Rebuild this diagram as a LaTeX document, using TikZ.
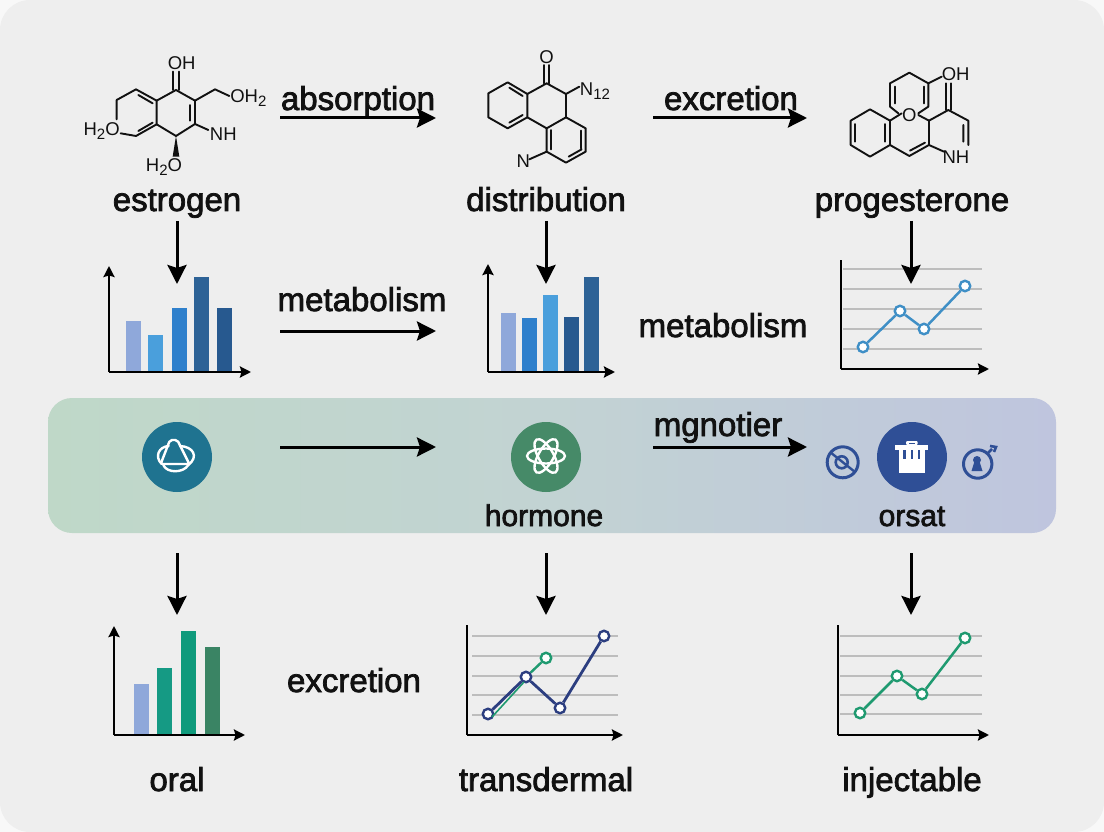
\documentclass[tikz,border=0pt]{standalone}
\usepackage{fontspec}
\setmainfont{Liberation Sans}[FakeBold=2.3]
\newfontfamily\molfont{Liberation Sans}
\newcommand{\subn}[1]{\raisebox{-4pt}{\fontsize{15}{15}\selectfont #1}}
\usetikzlibrary{arrows.meta,positioning,calc}
\definecolor{cardbg}{HTML}{EEEEEE}
\definecolor{outerbg}{HTML}{F8F8F8}
\definecolor{ink}{HTML}{111111}
\definecolor{gridc}{HTML}{BDBDBD}
\definecolor{bandL}{HTML}{BFD8C8}
\definecolor{bandM}{HTML}{C2D3D3}
\definecolor{bandR}{HTML}{BFC5DE}
\definecolor{barA}{HTML}{8FA8DA}
\definecolor{barB}{HTML}{4A9FDC}
\definecolor{barC}{HTML}{2F80CC}
\definecolor{barD}{HTML}{2D6296}
\definecolor{barE}{HTML}{27598F}
\definecolor{grA}{HTML}{159A84}
\definecolor{grB}{HTML}{0F9A7C}
\definecolor{grC}{HTML}{3A8464}
\definecolor{lineB}{HTML}{3F8FC6}
\definecolor{lineN}{HTML}{2C3E80}
\definecolor{lineG}{HTML}{1F9A70}
\definecolor{navy}{HTML}{2F4F96}
\definecolor{teal}{HTML}{1F7390}
\definecolor{leaf}{HTML}{468A68}
\tikzset{
  x=1pt,y=-1pt,
  lab/.style={font=\fontsize{33}{35}\selectfont,text=ink,inner sep=0pt,anchor=base},
  labsm/.style={lab,font=\fontsize{30}{32}\selectfont},
  flow/.style={draw=black,line width=3pt,-{Stealth[length=19pt,width=19pt,inset=3pt]}},
  axisline/.style={draw=black,line width=2.4pt,-{Stealth[length=11pt,width=11pt,inset=1.5pt]}},
  axisplain/.style={draw=black,line width=2.4pt},
  bond/.style={draw=ink,line width=1.9pt,line cap=round,line join=round},
  atom/.style={font=\molfont\fontsize{18.5}{20}\selectfont,text=ink,inner sep=0pt,anchor=center},
  gridl/.style={draw=gridc,line width=1.8pt},
  dot/.style={circle,draw=#1,fill=white,line width=2.4pt,minimum size=10.5pt,inner sep=0pt},
  badge/.style={circle,fill=#1,minimum size=70pt,inner sep=0pt},
  glyph/.style={draw=white,line width=2.4pt,line join=round,line cap=round},
}
\newcommand{\barbox}[4]{\fill[#4] (#1,#2) rectangle (#1+15,#3);}
\begin{document}
\begin{tikzpicture}
\useasboundingbox (0,0) rectangle (1104,832);
\fill[outerbg] (0,0) rectangle (1104,832);
\fill[cardbg,rounded corners=30pt] (0,0) rectangle (1104,832);
% band
\shade[rounded corners=24pt,left color=bandL,right color=bandR,middle color=bandM] (48,398) rectangle (1056,533);

% molecule 1
\begin{scope}[shift={(90,30)},x=.3333pt,y=-.3333pt]
\draw[bond] (258,180)--(315,212)--(315,282)--(258,318)--(200,283)--(200,212)--cycle;
\draw[bond] (200,212)--(138,178)--(80,210)--(80,268);
\draw[bond] (92,310)--(138,318)--(200,283);
\draw[bond] (145,195)--(188,220) (145,303)--(188,278) (300,225)--(300,272);
\draw[bond] (250,180)--(250,125) (266,180)--(266,125);
\draw[bond] (315,212)--(375,178)--(418,198) (315,282)--(355,300);
\fill[ink] (258,318)--(248,380)--(268,380)--cycle;
\node[atom] (m1a) at (275,98) {OH};
\node[atom] (m1b) at (475,205) {OH\subn{2}};
\node[atom] (m1c) at (400,312) {NH};
\node[atom] (m1d) at (222,412) {H\subn{2}O};
\node[atom] (m1e) at (35,303) {H\subn{2}O};
\end{scope}
% molecule 2
\begin{scope}[shift={(470,30)},x=.3333pt,y=-.3333pt]
\draw[bond] (113,157)--(172,192)--(172,262)--(113,295)--(55,262)--(55,190)--cycle;
\draw[bond] (118,173)--(158,198) (118,278)--(158,255);
\draw[bond] (172,192)--(230,160)--(288,192)--(288,262)--(230,295)--(172,262);
\draw[bond] (222,160)--(222,105) (238,160)--(238,105);
\draw[bond] (230,295)--(230,365)--(288,398)--(347,365)--(347,295)--(288,262);
\draw[bond] (243,300)--(243,358) (296,380)--(335,358) (333,302)--(333,355);
\draw[bond] (288,192)--(328,170) (230,365)--(178,388);
\node[atom] (m2a) at (230,80) {O};
\node[atom] (m2b) at (375,182) {N\subn{12}};
\node[atom] (m2c) at (160,392) {N};
\end{scope}
% molecule 3
\begin{scope}[shift={(830,50)},x=.3333pt,y=-.3333pt]
\draw[bond] (205,190)--(180,170)--(180,100)--(238,68)--(295,100)--(295,170)--(265,190);
\draw[bond] (195,110)--(195,160) (281,110)--(281,160);
\draw[bond] (295,100)--(335,80);
\draw[bond] (120,178)--(180,212)--(180,285)--(120,320)--(62,285)--(62,212)--cycle;
\draw[bond] (76,222)--(76,275) (166,222)--(166,275);
\draw[bond] (180,212)--(215,190) (180,285)--(238,318)--(297,285)--(297,212)--(355,180)--(415,212)--(415,285);
\draw[bond] (240,302)--(285,278) (400,225)--(400,275);
\draw[bond] (297,285)--(342,305) (297,212)--(265,195);
\draw[bond] (347,180)--(347,100) (363,180)--(363,100);
\node[atom] (m3a) at (377,72) {OH};
\node[atom] (m3b) at (238,195) {O};
\node[atom] (m3c) at (378,320) {NH};
\end{scope}

% labels
\node[lab] (estrogen) at (177,211) {estrogen};
\node[lab] (distribution) at (546,211) {distribution};
\node[lab] (progesterone) at (912,211) {progesterone};
\node[lab] (absorption) at (358,110) {absorption};
\node[lab] (excretionA) at (731,110) {excretion};
\node[lab] (metabA) at (362,311) {metabolism};
\node[lab] (metabB) at (723,337) {metabolism};
\node[lab] (mgnotier) at (718,436) {mgnotier};
\node[labsm] (hormone) at (544,526) {hormone};
\node[labsm] (orsat) at (912,526) {orsat};
\node[lab] (oral) at (177,791) {oral};
\node[lab] (transdermal) at (546,791) {transdermal};
\node[lab] (injectable) at (912,791) {injectable};
\node[lab] (excretionB) at (354,692) {excretion};

% chart 1
\barbox{125.5}{321}{372}{barA}
\barbox{148}{335}{372}{barB}
\barbox{171.5}{308}{372}{barC}
\barbox{194}{277}{372}{barD}
\barbox{217}{308}{372}{barE}
\coordinate (c1o) at (109,372); \coordinate (c1y) at (109,266); \coordinate (c1x) at (251,372);
\draw[axisline] (c1o)--(c1y); \draw[axisline] (c1o)--(c1x);
% chart 2
\barbox{501}{313}{372}{barA}
\barbox{522}{318}{372}{barC}
\barbox{543}{295}{372}{barB}
\barbox{564}{317}{372}{barE}
\barbox{584}{277}{372}{barD}
\coordinate (c2o) at (488,372); \coordinate (c2y) at (488,264); \coordinate (c2x) at (615,372);
\draw[axisline] (c2o)--(c2y); \draw[axisline] (c2o)--(c2x);
% chart 3
\foreach \y in {269,289,309,329,349}{\draw[gridl] (843,\y)--(982,\y);}
\coordinate (c3o) at (841,369); \coordinate (c3y) at (841,260); \coordinate (c3x) at (989,369);
\draw[axisplain] (c3o)--(c3y); \draw[axisline] (c3o)--(c3x);
\node[dot=lineB] (p31) at (863,347) {};
\node[dot=lineB] (p32) at (900,311) {};
\node[dot=lineB] (p33) at (924,329) {};
\node[dot=lineB] (p34) at (965,286) {};
\draw[lineB,line width=2.5pt] (p31)--(p32)--(p33)--(p34);
% chart 4
\barbox{134}{684}{735}{barA}
\barbox{157}{668}{735}{grA}
\barbox{181}{631}{735}{grB}
\barbox{205}{647}{735}{grC}
\coordinate (c4o) at (114,735); \coordinate (c4y) at (114,626); \coordinate (c4x) at (245,735);
\draw[axisline] (c4o)--(c4y); \draw[axisline] (c4o)--(c4x);
% chart 5
\foreach \y in {636,656,676,695,715}{\draw[gridl] (472,\y)--(618,\y);}
\coordinate (c5o) at (467,735); \coordinate (c5y) at (467,625); \coordinate (c5x) at (623,735);
\draw[axisplain] (c5o)--(c5y); \draw[axisline] (c5o)--(c5x);
\node[dot=lineG] (p5g) at (546,658) {};
\node[dot=lineN] (p51) at (488,714) {};
\node[dot=lineN] (p52) at (526,677) {};
\node[dot=lineN] (p53) at (560,708) {};
\node[dot=lineN] (p54) at (604,636) {};
\draw[lineG,line width=1.6pt] (492,717)--(524,682);
\draw[lineG,line width=2.4pt] (p52)--(p5g);
\draw[lineN,line width=2.8pt] (p51)--(p52)--(p53)--(p54);
% chart 6
\foreach \y in {636,656,676,695,714}{\draw[gridl] (840,\y)--(982,\y);}
\coordinate (c6o) at (838,735); \coordinate (c6y) at (838,625); \coordinate (c6x) at (989,735);
\draw[axisplain] (c6o)--(c6y); \draw[axisline] (c6o)--(c6x);
\node[dot=lineG] (p61) at (860,713) {};
\node[dot=lineG] (p62) at (897,676) {};
\node[dot=lineG] (p63) at (922,694) {};
\node[dot=lineG] (p64) at (965,638) {};
\draw[lineG,line width=2.5pt] (p61)--(p62)--(p63)--(p64);

% connectors
\foreach \n/\xa/\ya/\xb/\yb in {a/280/118/436/118,b/653/118/807/118,c/280/331/436/331,d/280/447/436/447,e/653/447/807/447,f/177/221/177/284,g/546/221/546/284,h/911/221/911/284,i/177/553/177/615,j/546/553/546/615,k/911/553/911/615}{
  \coordinate (s\n) at (\xa,\ya);
  \coordinate (t\n) at (\xb,\yb);
  \draw[flow] (s\n)--(t\n);
}

% badges
\node[badge=teal] (bA) at (177,457) {};
\node[badge=leaf] (bB) at (546,457) {};
\node[badge=navy] (bC) at (912,457) {};
% teal glyph
\begin{scope}[shift={(120,410)},x=.3333pt,y=-.3333pt]
\draw[glyph,rounded corners=2pt] (122,162)--(150,90)--(172,90)--(208,162)--cycle;
\draw[glyph] (146,108) .. controls (116,110) and (103,140) .. (125,162);
\draw[glyph] (180,108) .. controls (220,110) and (237,140) .. (205,165);
\draw[glyph] (130,165) .. controls (140,190) and (190,190) .. (205,165);
\end{scope}
% green glyph
\foreach \a in {0,60,120}{
  \draw[glyph,rotate around={\a:(546,456)}] (546,456) ellipse[x radius=19pt,y radius=7.5pt];
}
% trash
\fill[white,rounded corners=1pt] (906,441) rectangle (917.5,445);
\fill[navy] (908.5,442.6) rectangle (915,444.4);
\fill[white] (895,444.5) rectangle (928,450);
\fill[white] (899,450) rectangle (925,473);
\foreach \x in {904.3,911.7,919}{\draw[navy,line width=2.4pt] (\x,450)--(\x,459);}
% left small
\draw[navy,line width=3pt] (842.7,462.3) circle[radius=15.5pt];
\draw[navy,line width=2.6pt] (841.7,462.3) circle[radius=6pt];
\draw[navy,line width=2.4pt] (830,452)--(855,472);
% right small
\draw[navy,line width=3pt] (977.7,464) circle[radius=14.2pt];
\fill[navy] (977,460) circle[radius=4pt];
\fill[navy] (971.5,471)--(974,463)--(980,463)--(982.5,471)--cycle;
\draw[navy,line width=2.8pt] (988,453)--(992,449);
\draw[navy,line width=2.6pt] (990,446)--(996,447)--(994,452);
\end{tikzpicture}
\end{document}
